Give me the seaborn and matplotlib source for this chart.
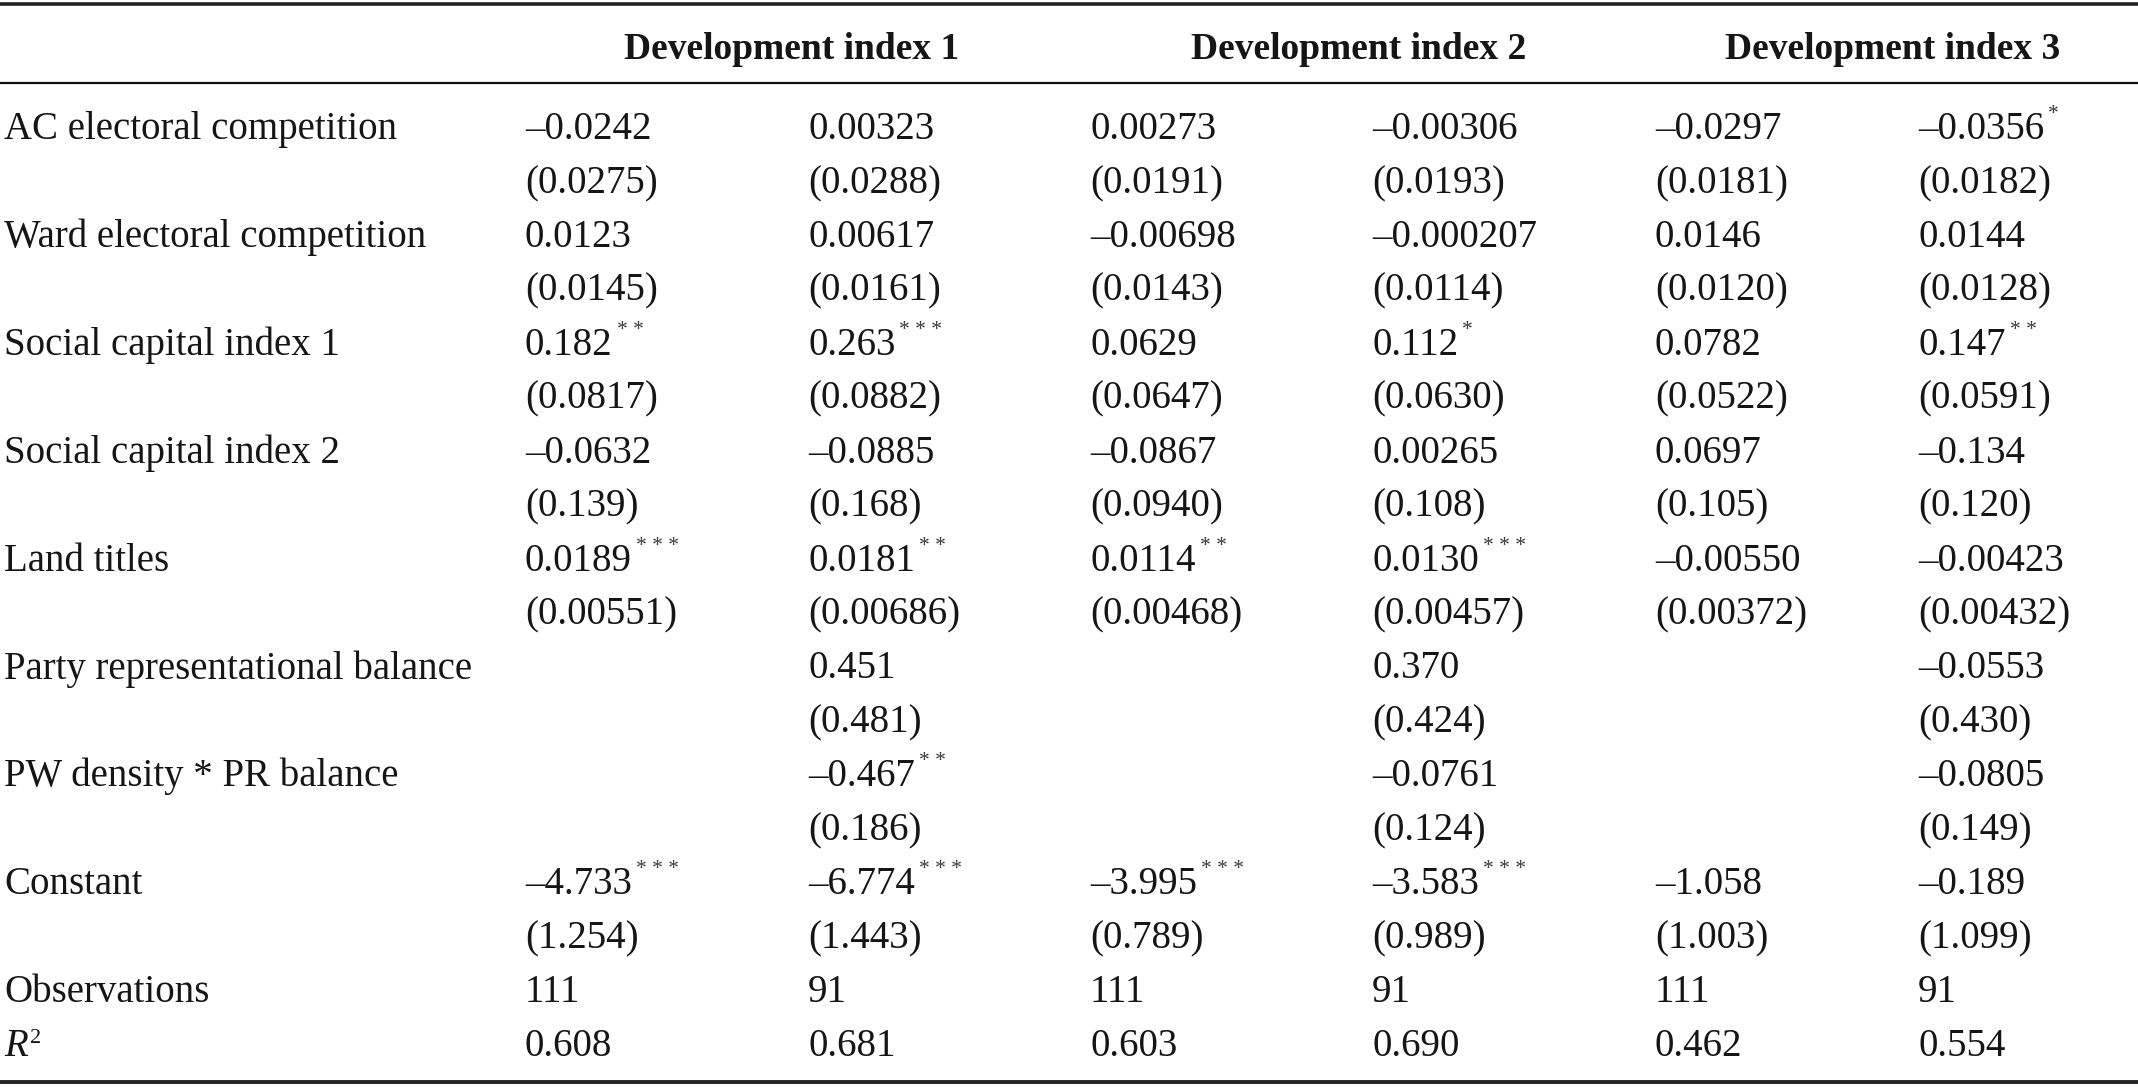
import matplotlib
matplotlib.use("Agg")
import matplotlib.pyplot as plt
import seaborn as sns

# Column headers (each covers two model columns)
col_groups = ["Development index 1", "Development index 2", "Development index 3"]

# Coefficients, standard errors and significance stars per row
ac_coef = ["–0.0242", "0.00323", "0.00273", "–0.00306", "–0.0297", "–0.0356"]
ac_se = ["(0.0275)", "(0.0288)", "(0.0191)", "(0.0193)", "(0.0181)", "(0.0182)"]
ac_stars = ["", "", "", "", "", "*"]

ward_coef = ["0.0123", "0.00617", "–0.00698", "–0.000207", "0.0146", "0.0144"]
ward_se = ["(0.0145)", "(0.0161)", "(0.0143)", "(0.0114)", "(0.0120)", "(0.0128)"]
ward_stars = ["", "", "", "", "", ""]

sc1_coef = ["0.182", "0.263", "0.0629", "0.112", "0.0782", "0.147"]
sc1_se = ["(0.0817)", "(0.0882)", "(0.0647)", "(0.0630)", "(0.0522)", "(0.0591)"]
sc1_stars = ["**", "***", "", "*", "", "**"]

sc2_coef = ["–0.0632", "–0.0885", "–0.0867", "0.00265", "0.0697", "–0.134"]
sc2_se = ["(0.139)", "(0.168)", "(0.0940)", "(0.108)", "(0.105)", "(0.120)"]
sc2_stars = ["", "", "", "", "", ""]

land_coef = ["0.0189", "0.0181", "0.0114", "0.0130", "–0.00550", "–0.00423"]
land_se = ["(0.00551)", "(0.00686)", "(0.00468)", "(0.00457)", "(0.00372)", "(0.00432)"]
land_stars = ["***", "**", "**", "***", "", ""]

party_coef = ["", "0.451", "", "0.370", "", "–0.0553"]
party_se = ["", "(0.481)", "", "(0.424)", "", "(0.430)"]
party_stars = ["", "", "", "", "", ""]

pw_coef = ["", "–0.467", "", "–0.0761", "", "–0.0805"]
pw_se = ["", "(0.186)", "", "(0.124)", "", "(0.149)"]
pw_stars = ["", "**", "", "", "", ""]

const_coef = ["–4.733", "–6.774", "–3.995", "–3.583", "–1.058", "–0.189"]
const_se = ["(1.254)", "(1.443)", "(0.789)", "(0.989)", "(1.003)", "(1.099)"]
const_stars = ["***", "***", "***", "***", "", ""]

observations = ["111", "91", "111", "91", "111", "91"]
r_squared = ["0.608", "0.681", "0.603", "0.690", "0.462", "0.554"]

variables = [
    ("AC electoral competition", ac_coef, ac_se, ac_stars),
    ("Ward electoral competition", ward_coef, ward_se, ward_stars),
    ("Social capital index 1", sc1_coef, sc1_se, sc1_stars),
    ("Social capital index 2", sc2_coef, sc2_se, sc2_stars),
    ("Land titles", land_coef, land_se, land_stars),
    ("Party representational balance", party_coef, party_se, party_stars),
    ("PW density * PR balance", pw_coef, pw_se, pw_stars),
    ("Constant", const_coef, const_se, const_stars),
]

# layout (pixels)
W, H = 2138, 1092
col_x = [525, 808, 1090, 1372, 1655, 1918]
group_x = [792, 1359, 1893]
label_x = 4
first_base = 139
row_step = 53.95
header_base = 59
fs = 28
ink = "#151515"

sns.set_theme(style="white")
plt.rcParams["font.family"] = ["Liberation Serif", "DejaVu Serif"]

fig = plt.figure(figsize=(W / 100, H / 100), dpi=100)
ax = fig.add_axes([0, 0, 1, 1])
ax.set_xlim(0, W)
ax.set_ylim(H, 0)
ax.axis("off")
renderer = fig.canvas.get_renderer()
inv = ax.transData.inverted()


def put_stars(txt, stars, y):
    # significance stars, small and spaced, above right of the number
    if not stars:
        return
    bb = txt.get_window_extent(renderer)
    x_end = inv.transform((bb.x1, bb.y0))[0]
    ax.text(x_end + 4, y - 20, " ".join(stars), fontsize=15.5, color="#3a3a3a",
            ha="left", va="baseline")


# rules
ax.axhline(4, color="#222222", lw=2.6)
ax.axhline(83, color="#111111", lw=1.6)
ax.axhline(1082, color="#222222", lw=2.8)

for name, cx in zip(col_groups, group_x):
    ax.text(cx, header_base, name, fontsize=27, fontweight="bold",
            ha="center", va="baseline", color=ink)

row = 0
for label, coef, se, stars in variables:
    y1 = first_base + row * row_step
    y2 = first_base + (row + 1) * row_step
    ax.text(label_x, y1, label, fontsize=fs, ha="left", va="baseline", color=ink)
    for x, c, s, st in zip(col_x, coef, se, stars):
        t = ax.text(x, y1, c, fontsize=fs, ha="left", va="baseline", color=ink)
        put_stars(t, st, y1)
        ax.text(x, y2, s, fontsize=fs, ha="left", va="baseline", color=ink)
    row += 2

y_obs = first_base + row * row_step
ax.text(label_x, y_obs, "Observations", fontsize=fs, ha="left", va="baseline", color=ink)
for x, v in zip(col_x, observations):
    ax.text(x, y_obs, v, fontsize=fs, ha="left", va="baseline", color=ink)

y_r2 = first_base + (row + 1) * row_step
r_txt = ax.text(label_x, y_r2, "R", fontsize=fs, style="italic", ha="left",
                va="baseline", color=ink)
bb = r_txt.get_window_extent(renderer)
ax.text(inv.transform((bb.x1, bb.y0))[0] + 2, y_r2 - 13, "2", fontsize=16,
        ha="left", va="baseline", color=ink)
for x, v in zip(col_x, r_squared):
    ax.text(x, y_r2, v, fontsize=fs, ha="left", va="baseline", color=ink)

fig.savefig("out.png", dpi=100, facecolor="white")
